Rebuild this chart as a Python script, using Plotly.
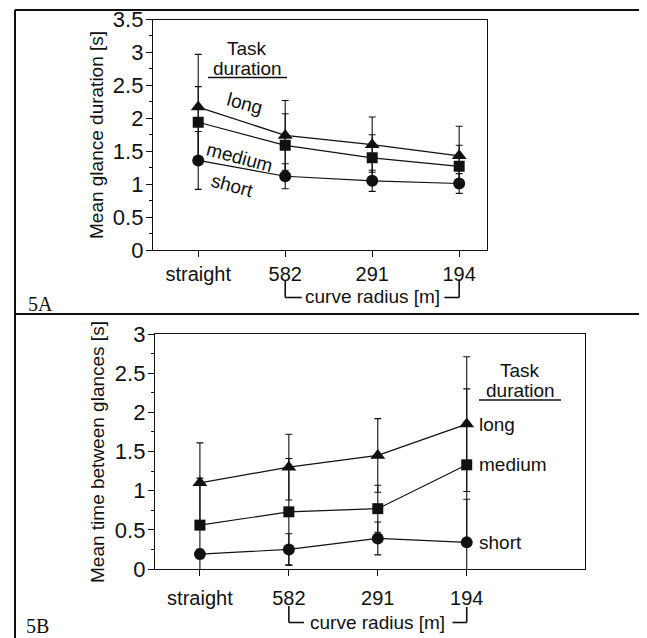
import plotly.graph_objects as go

# browser page has an 8px body margin; figure is sized/offset to fill the window
PAGE_W, PAGE_H = 647, 638
OFF = 8
W, H = PAGE_W - OFF, PAGE_H - OFF

# ---------------- data ----------------
categories = ["straight", "582", "291", "194"]
cat_pos = [0, 1, 2, 3]

# Panel 5A: mean glance duration [s]
a_long = [2.17, 1.74, 1.60, 1.43]
a_long_err = [0.80, 0.53, 0.42, 0.45]
a_medium = [1.94, 1.59, 1.40, 1.27]
a_medium_err = [0.54, 0.48, 0.35, 0.32]
a_short = [1.36, 1.12, 1.05, 1.01]
a_short_err = [0.44, 0.19, 0.16, 0.15]

# Panel 5B: mean time between glances [s]
b_long = [1.10, 1.30, 1.45, 1.85]
b_long_err = [0.51, 0.42, 0.47, 0.86]
b_medium = [0.56, 0.73, 0.77, 1.33]
b_medium_err = [0.60, 0.68, 0.30, 0.97]
b_short = [0.19, 0.25, 0.39, 0.34]
b_short_err = [0.06, 0.20, 0.21, 0.55]

series_names = ["long", "medium", "short"]
a_y_ticks = [0, 0.5, 1, 1.5, 2, 2.5, 3, 3.5]
b_y_ticks = [0, 0.5, 1, 1.5, 2, 2.5, 3]

# ---------------- helpers (page pixels -> paper fraction) ----------------
def px(x):
    return (x - OFF) / W

def py(y):
    return 1 - (y - OFF) / H

FONT = "Liberation Sans, Arial, Helvetica, sans-serif"
SERIF = "Liberation Serif, Times New Roman, serif"
INK = "#111111"

symbols = {"long": "triangle-up", "medium": "square", "short": "circle"}
sizes = {"long": 13, "medium": 11, "short": 12}

fig = go.Figure()

def add_series(xa, ya, name, yv, ev):
    fig.add_trace(go.Scatter(
        x=cat_pos, y=yv, mode="lines+markers", name=name,
        xaxis=xa, yaxis=ya, showlegend=False,
        line=dict(color=INK, width=1.2),
        marker=dict(symbol=symbols[name], size=sizes[name], color=INK),
        error_y=dict(type="data", array=ev, symmetric=True,
                     color=INK, thickness=1.1, width=3.5),
    ))

for n, yv, ev in zip(series_names, [a_long, a_medium, a_short],
                     [a_long_err, a_medium_err, a_short_err]):
    add_series("x", "y", n, yv, ev)
for n, yv, ev in zip(series_names, [b_long, b_medium, b_short],
                     [b_long_err, b_medium_err, b_short_err]):
    add_series("x2", "y2", n, yv, ev)

xaxis_common = dict(
    tickmode="array", tickvals=cat_pos, ticktext=categories,
    showline=True, linecolor=INK, linewidth=1.3, mirror=True,
    ticks="outside", ticklen=6, tickcolor=INK, tickwidth=1.2,
    showgrid=False, zeroline=False, automargin=False,
    ticklabeloverflow="allow",
    tickfont=dict(family=FONT, size=20, color=INK),
)
yaxis_common = dict(
    showline=True, linecolor=INK, linewidth=1.3, mirror=True,
    ticks="outside", ticklen=6, tickcolor=INK, tickwidth=1.2,
    showgrid=False, zeroline=False, automargin=False,
    ticklabeloverflow="allow", ticklabelstandoff=-2,
    tickfont=dict(family=FONT, size=22, color=INK),
    minor=dict(ticks="outside", ticklen=3, tickcolor=INK, tickwidth=1, dtick=0.25, tick0=0, showgrid=False),
)

fig.update_layout(
    template="none",
    width=W, height=H, autosize=False,
    margin=dict(l=0, r=0, t=0, b=0, pad=0, autoexpand=False),
    paper_bgcolor="white", plot_bgcolor="white",
    xaxis=dict(xaxis_common, domain=[px(153), px(487)], range=[-0.52, 3.32], anchor="y"),
    yaxis=dict(yaxis_common, domain=[py(250), py(19.5)], range=[0, 3.5],
               tickmode="array", tickvals=a_y_ticks,
               ticktext=[f"{v:g}" for v in a_y_ticks], anchor="x"),
    xaxis2=dict(xaxis_common, domain=[px(155), px(585)], range=[-0.505, 4.33], anchor="y2",
                ticklabelstandoff=5),
    yaxis2=dict(yaxis_common, domain=[py(569), py(334)], range=[0, 3],
                tickmode="array", tickvals=b_y_ticks,
                ticktext=[f"{v:g}" for v in b_y_ticks], anchor="x2"),
)

ann = []
shapes = []

def text(x, y, s, size=19, angle=0, xanchor="center", family=FONT, xref="paper", yref="paper", xshift=0, yshift=0):
    ann.append(dict(x=x, y=y, xref=xref, yref=yref, text=s, showarrow=False,
                    textangle=angle, xanchor=xanchor, yanchor="middle",
                    xshift=xshift, yshift=yshift,
                    font=dict(family=family, size=size, color=INK)))

def line(x0, y0, x1, y1, xref="paper", width=1.4):
    shapes.append(dict(type="line", xref=xref, yref="paper", x0=x0, y0=y0, x1=x1, y1=y1,
                       line=dict(color=INK, width=width)))

# outer frames
line(px(15), py(10), px(644), py(10), width=2)
line(px(15), py(10), px(15), py(638), width=2)
line(px(644), py(10), px(644), py(638), width=2)
line(px(15), py(314), px(644), py(314), width=2)

# axis titles
text(px(97), py(135), "Mean glance duration [s]", size=19, angle=-90)
text(px(97), py(452), "Mean time between glances [s]", size=19, angle=-90)

# panel labels
text(px(26), py(304), "5A", size=20, xanchor="left", family=SERIF)
text(px(24), py(626), "5B", size=20, xanchor="left", family=SERIF)

# Panel A legend-like labels
text(px(247), py(48), "Task", size=19)
text(px(247), py(69), "duration", size=19)
line(px(208), py(77.5), px(287), py(77.5), width=1.6)
text(px(245), py(103), "long", size=19, angle=15)
text(px(240), py(157), "medium", size=19, angle=15)
text(px(232), py(185), "short", size=19, angle=15)

# Panel B labels
text(px(520), py(370), "Task", size=19)
text(px(520), py(391), "duration", size=19)
line(px(479), py(400), px(561), py(400), width=1.6)
for n, yv in zip(series_names, [b_long, b_medium, b_short]):
    text(cat_pos[-1], yv[-1], n, size=19, xanchor="left", xref="x2", yref="y2", xshift=10)

# curve radius brackets (A)
text(2, py(297), "curve radius [m]", size=19, xref="x")
line(1, py(280), 1, py(297.5), xref="x", width=1.6)
line(1, py(297.5), 1.19, py(297.5), xref="x", width=1.6)
line(3, py(281), 3, py(297.5), xref="x", width=1.6)
line(2.83, py(297.5), 3, py(297.5), xref="x", width=1.6)

# curve radius brackets (B)
text(2, py(622), "curve radius [m]", size=19, xref="x2")
line(1, py(606), 1, py(622.5), xref="x2", width=1.6)
line(1, py(622.5), 1.17, py(622.5), xref="x2", width=1.6)
line(3, py(607), 3, py(622.5), xref="x2", width=1.6)
line(2.84, py(622.5), 3, py(622.5), xref="x2", width=1.6)

fig.update_layout(annotations=ann, shapes=shapes)
fig.write_html("out.html")
